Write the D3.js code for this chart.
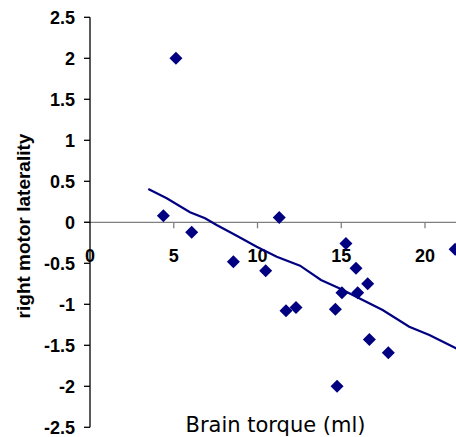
<!DOCTYPE html>
<html>
<head>
<meta charset="utf-8">
<script src="https://cdn.jsdelivr.net/npm/d3@7"></script>
<style>
  html, body { margin: 0; padding: 0; background: #fff; }
  svg { display: block; }
</style>
</head>
<body>
<svg id="chart" width="456" height="437"></svg>
<script>
// ---- data ----
const pointX = [5.13, 4.38, 6.07, 8.56, 11.3, 10.49, 11.7, 12.3, 15.28, 15.88, 16.58, 15.04, 15.98, 14.65, 16.68, 17.81, 14.75, 21.8];
const pointY = [2.0, 0.08, -0.12, -0.48, 0.06, -0.59, -1.08, -1.04, -0.26, -0.56, -0.75, -0.86, -0.86, -1.06, -1.43, -1.59, -2.0, -0.33];
const trendX = [3.48, 4.58, 5.97, 6.87, 7.56, 8.76, 9.95, 11.15, 12.54, 13.79, 14.88, 16.28, 17.47, 19.06, 20.26, 21.85, 23.0];
const trendY = [0.406, 0.293, 0.122, 0.049, -0.033, -0.163, -0.298, -0.42, -0.529, -0.704, -0.805, -0.948, -1.07, -1.273, -1.374, -1.537, -1.65];
const xTicks = [0, 5, 10, 15, 20];
const yTicks = [2.5, 2, 1.5, 1, 0.5, 0, -0.5, -1, -1.5, -2, -2.5];
const xTitle = "Brain torque (ml)";
const yTitle = "right motor laterality";

// ---- drawing ----
const svg = d3.select("#chart");
const x = d3.scaleLinear().domain([0, 25]).range([90, 90 + 25 * 16.75]);
const y = d3.scaleLinear().domain([-2.5, 2.5]).range([427.3, 17.3]);
const navy = "#000080";

svg.append("rect").attr("width", 456).attr("height", 437).attr("fill", "#fff");

// x axis (gray) at y = 0
svg.append("line")
  .attr("x1", x(0) - 6).attr("x2", 456)
  .attr("y1", y(0)).attr("y2", y(0))
  .attr("stroke", "#808080").attr("stroke-width", 1.3);
svg.selectAll(".xtick").data(xTicks.filter(d => d > 0)).join("line")
  .attr("x1", d => x(d)).attr("x2", d => x(d))
  .attr("y1", y(0)).attr("y2", y(0) + 6)
  .attr("stroke", "#808080").attr("stroke-width", 1.3);
svg.selectAll(".xlab").data(xTicks).join("text")
  .attr("x", d => x(d)).attr("y", 261.7)
  .attr("text-anchor", "middle")
  .attr("font-family", "Liberation Sans, Arial, sans-serif")
  .attr("font-weight", "bold").attr("font-size", 18)
  .attr("fill", "#000")
  .text(d => d);

// y axis (black)
svg.append("line")
  .attr("x1", x(0)).attr("x2", x(0))
  .attr("y1", y(2.5)).attr("y2", y(-2.5))
  .attr("stroke", "#000").attr("stroke-width", 1.3);
svg.selectAll(".ytick").data(yTicks).join("line")
  .attr("x1", x(0) - 6).attr("x2", x(0))
  .attr("y1", d => y(d)).attr("y2", d => y(d))
  .attr("stroke", "#000").attr("stroke-width", 1.3);
svg.selectAll(".ylab").data(yTicks).join("text")
  .attr("x", 75).attr("y", d => y(d))
  .attr("dy", "0.36em")
  .attr("text-anchor", "end")
  .attr("font-family", "Liberation Sans, Arial, sans-serif")
  .attr("font-weight", "bold").attr("font-size", 18)
  .attr("fill", "#000")
  .text(d => d);

// titles
svg.append("text")
  .attr("transform", "translate(30,226) rotate(-90)")
  .attr("text-anchor", "middle")
  .attr("font-family", "Liberation Sans, Arial, sans-serif")
  .attr("font-weight", "bold").attr("font-size", 19)
  .attr("fill", "#000")
  .text(yTitle);
svg.append("text")
  .attr("x", 275.5).attr("y", 432)
  .attr("text-anchor", "middle")
  .attr("font-family", "DejaVu Sans, Verdana, sans-serif")
  .attr("font-size", 21)
  .attr("fill", "#000")
  .text(xTitle);

// trend line
const trend = trendX.map((v, i) => [v, trendY[i]]);
svg.append("path")
  .datum(trend)
  .attr("d", d3.line().x(d => x(d[0])).y(d => y(d[1])))
  .attr("fill", "none").attr("stroke", navy).attr("stroke-width", 2.2);

// diamonds
const pts = pointX.map((v, i) => [v, pointY[i]]);
const r = 6.5;
svg.selectAll(".pt").data(pts).join("path")
  .attr("d", d => {
    const cx = x(d[0]), cy = y(d[1]);
    return `M${cx},${cy - r}L${cx + r},${cy}L${cx},${cy + r}L${cx - r},${cy}Z`;
  })
  .attr("fill", navy);
</script>
</body>
</html>
